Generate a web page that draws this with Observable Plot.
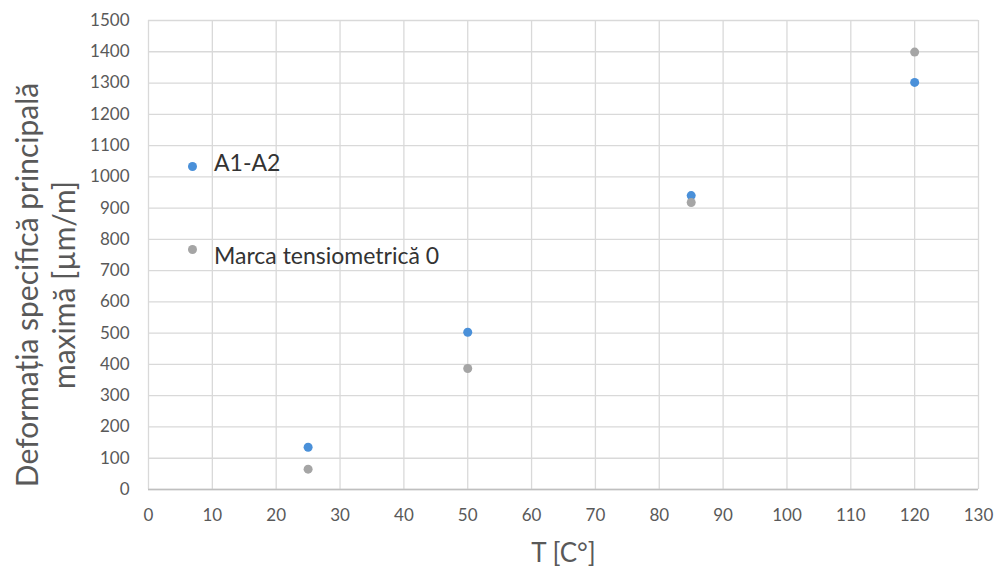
<!DOCTYPE html>
<html><head><meta charset="utf-8">
<script src="https://cdn.jsdelivr.net/npm/d3@7"></script>
<script src="https://cdn.jsdelivr.net/npm/@observablehq/plot@0.6"></script>
<style>
body{margin:0;background:#fff;}
#wrap{position:relative;width:997px;height:572px;overflow:hidden;}
.legdot{position:absolute;width:9px;height:9px;border-radius:50%;}
.legtxt{position:absolute;font-family:Lato,"Open Sans",sans-serif;font-size:23px;color:#333;white-space:nowrap;line-height:26px;}
</style></head><body><div id="wrap"></div>
<script>
const temps = [25, 50, 85, 120];
const seriesNames = ["A1-A2", "Marca tensiometrică 0"];
const a1a2 = [135, 503, 940, 1302];
const marca = [65, 387, 918, 1399];
const seriesColors = ["#4a90d9", "#a5a5a5"];
const xTicks = [0, 10, 20, 30, 40, 50, 60, 70, 80, 90, 100, 110, 120, 130];
const yTicks = [0, 100, 200, 300, 400, 500, 600, 700, 800, 900, 1000, 1100, 1200, 1300, 1400, 1500];
const xTitle = "T [C°]";
const yTitle = "Deformația specifică principală\nmaximă [µm/m]";

const data = [
  ...temps.map((t, i) => ({T: t, v: a1a2[i], s: seriesNames[0]})),
  ...temps.map((t, i) => ({T: t, v: marca[i], s: seriesNames[1]}))
];

const chart = Plot.plot({
  width: 997, height: 572,
  marginLeft: 148, marginRight: 19, marginTop: 20, marginBottom: 83,
  style: {fontFamily: "Lato, 'Open Sans', sans-serif", fontSize: "17px", color: "#595959", background: "#fff", overflow: "visible"},
  x: {domain: [0, 130], label: null},
  y: {domain: [0, 1500], label: null},
  color: {domain: seriesNames, range: seriesColors},
  marks: [
    Plot.gridX(xTicks, {stroke: "#d9d9d9", strokeOpacity: 1, strokeWidth: 1.3}),
    Plot.gridY(yTicks, {stroke: "#d9d9d9", strokeOpacity: 1, strokeWidth: 1.3}),
    Plot.ruleY([0], {stroke: "#bfbfbf", strokeWidth: 1.3}),
    Plot.axisX(xTicks, {tickSize: 0, tickPadding: 19, label: null, fill: "#595959", fontSize: 17, tickFormat: d => String(d)}),
    Plot.axisY(yTicks, {tickSize: 0, tickPadding: 19, label: null, fill: "#595959", fontSize: 17, tickFormat: d => String(d)}),
    Plot.dot(data, {x: "T", y: "v", fill: "s", r: 4.5}),
    Plot.text([xTitle], {frameAnchor: "bottom", dy: 64, lineAnchor: "middle", fontSize: 26, fill: "#595959"}),
    Plot.text([yTitle], {frameAnchor: "left", dx: -104, dy: 30, rotate: -90, lineAnchor: "middle", textAnchor: "middle", lineHeight: 1.22, fontSize: 30, fill: "#595959"})
  ]
});
const wrap = document.getElementById("wrap");
wrap.appendChild(chart);

// legend overlay
const legPos = [{dx: 192, dy: 166.7, tx: 214, ty: 162}, {dx: 192, dy: 249.5, tx: 214, ty: 255}];
seriesNames.forEach((name, i) => {
  const d = document.createElement("div");
  d.className = "legdot";
  d.style.background = seriesColors[i];
  d.style.left = (legPos[i].dx - 4.5) + "px";
  d.style.top = (legPos[i].dy - 4.5) + "px";
  wrap.appendChild(d);
  const t = document.createElement("div");
  t.className = "legtxt";
  t.textContent = name;
  t.style.left = legPos[i].tx + "px";
  t.style.top = (legPos[i].ty - 13) + "px";
  wrap.appendChild(t);
});
</script></body></html>
